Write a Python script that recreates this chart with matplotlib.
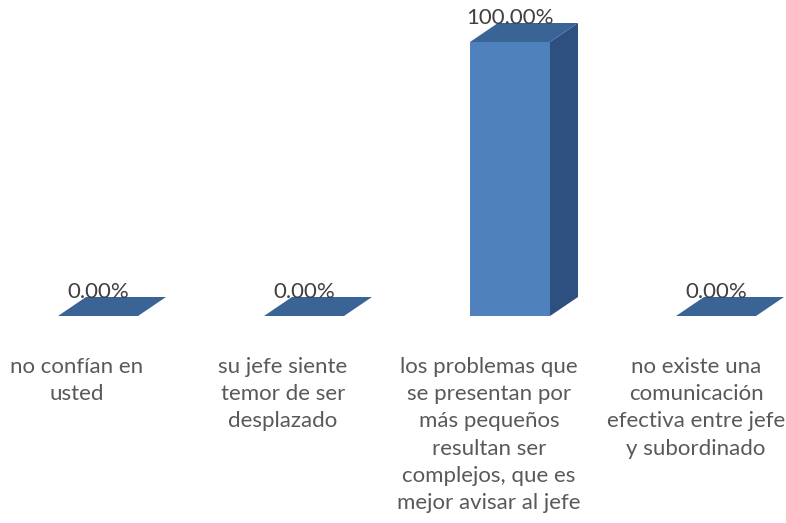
import matplotlib
matplotlib.use("Agg")
import matplotlib.pyplot as plt
from matplotlib.patches import Polygon, Rectangle
from matplotlib.transforms import blended_transform_factory

# Data
categories = [
    "no confían en\nusted",
    "su jefe siente\ntemor de ser\ndesplazado",
    "los problemas que\nse presentan por\nmás pequeños\nresultan ser\ncomplejos, que es\nmejor avisar al jefe",
    "no existe una\ncomunicación\nefectiva entre jefe\ny subordinado",
]
values = [0.0, 0.0, 1.0, 0.0]
value_labels = ["0.00%", "0.00%", "100.00%", "0.00%"]

# Layout (pixels)
W, H = 786, 523
BASE_PX, TOP_PX = 316, 42
STEP, FIRST = 206, 98
HALF_W_PX = 40
DX_PX, DY_PX = 28, 19

FRONT = "#4F81BD"
SIDE = "#2E5080"
TOP = "#3A6496"
TEXT = "#595959"
LABEL = "#404040"
FONT = "Lato"

fig = plt.figure(figsize=(W / 100, H / 100), dpi=100)
ax = fig.add_axes([0, (H - BASE_PX) / H, 1, (BASE_PX - TOP_PX) / H])
ax.set_xlim(-FIRST / STEP, (W - FIRST) / STEP)
ax.set_ylim(0, 1)
ax.axis("off")

hw = HALF_W_PX / STEP
dx = DX_PX / STEP
dy = DY_PX / (BASE_PX - TOP_PX)

for i, v in enumerate(values):
    x0, x1 = i - hw, i + hw
    if v > 0:
        side = Polygon([(x1, 0), (x1 + dx, dy), (x1 + dx, v + dy), (x1, v)],
                       closed=True, facecolor=SIDE, edgecolor="none", clip_on=False)
        ax.add_patch(side)
    top = Polygon([(x0, v), (x1, v), (x1 + dx, v + dy), (x0 + dx, v + dy)],
                  closed=True, facecolor=TOP, edgecolor="none", clip_on=False)
    ax.add_patch(top)
    if v > 0:
        ax.add_patch(Rectangle((x0, 0), x1 - x0, v, facecolor=FRONT,
                               edgecolor="none", clip_on=False))
    ax.annotate(value_labels[i], (i, v), xytext=(0, 24 * 0.72),
                textcoords="offset points", ha="center", va="center",
                fontsize=16, family=FONT, color=LABEL, annotation_clip=False)

# Category labels below the bars
trans = blended_transform_factory(ax.transData, fig.transFigure)
label_shift = [-21, -21, -21, -20]
for i, text in enumerate(categories):
    ax.text(i + label_shift[i] / STEP, 1 - 357 / H, text, transform=trans,
            ha="center", va="top", multialignment="center",
            fontsize=16, family=FONT, color=TEXT, linespacing=1.45,
            clip_on=False)

fig.savefig("out.png", dpi=100)
